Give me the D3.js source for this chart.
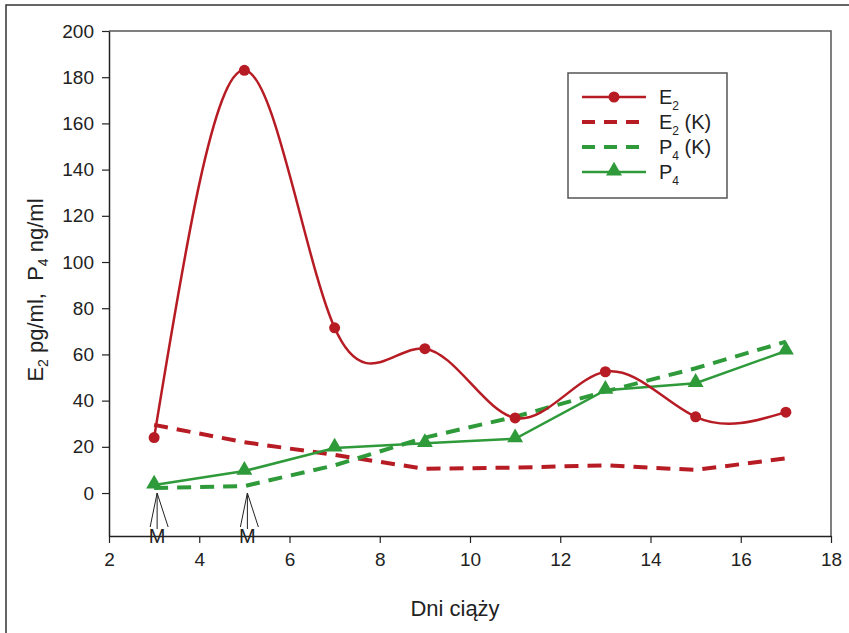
<!DOCTYPE html>
<html>
<head>
<meta charset="utf-8">
<script src="https://cdn.jsdelivr.net/npm/d3@7"></script>
<style>
  body { margin: 0; background: #fff; }
  text { font-family: "Liberation Sans", Arial, sans-serif; fill: #222; }
</style>
</head>
<body>
<svg id="chart" width="849" height="633"></svg>
<script>
// data
var days = [3, 5, 7, 9, 11, 13, 15, 17];
var e2 = [24, 183, 71.5, 62.5, 32.5, 52.5, 33, 35];
var e2K = [29.5, 22, 16.5, 10.5, 11, 12, 10, 15];
var p4K = [2.2, 3, 12, 24, 33, 44, 54, 65.5];
var p4 = [3.5, 9.5, 19.5, 21.5, 23.5, 44.5, 47.5, 61.5];
var xTicks = [2, 4, 6, 8, 10, 12, 14, 16, 18];
var yTicks = [0, 20, 40, 60, 80, 100, 120, 140, 160, 180, 200];
var markDays = [3, 5];

var red = '#b71c24';
var green = '#2f9a3a';

var svg = d3.select('#chart');

// outer frame
svg.append('rect')
  .attr('x', 6).attr('y', 5).attr('width', 900).attr('height', 700)
  .attr('fill', 'none').attr('stroke', '#333').attr('stroke-width', 1.5);

var pLeft = 109, pRight = 831, pTop = 31, pBottom = 536;

var x = d3.scaleLinear().domain([2, 18]).range([pLeft, pRight]);
var y = d3.scaleLinear().domain([-18.6, 200]).range([pBottom, pTop]);

// plot box (top and right sides)
svg.append('path')
  .attr('d', 'M' + pLeft + ',' + pTop + 'H' + pRight + 'V' + pBottom)
  .attr('fill', 'none').attr('stroke', '#555').attr('stroke-width', 1.5);

var xAxis = svg.append('g')
  .attr('transform', 'translate(0,' + pBottom + ')')
  .call(d3.axisBottom(x).tickValues(xTicks).tickSize(7).tickSizeOuter(0).tickPadding(10));
var yAxis = svg.append('g')
  .attr('transform', 'translate(' + pLeft + ',0)')
  .call(d3.axisLeft(y).tickValues(yTicks).tickSize(7).tickSizeOuter(0).tickPadding(8));

[xAxis, yAxis].forEach(function(a) {
  a.select('.domain').attr('stroke', '#222').attr('stroke-width', 1.5);
  a.selectAll('.tick line').attr('stroke', '#222').attr('stroke-width', 1.2);
  a.selectAll('.tick text').attr('font-size', 19)
    .attr('font-family', '"Liberation Sans", Arial, sans-serif').attr('fill', '#222');
});

// axis titles
svg.append('text')
  .attr('x', 455).attr('y', 616)
  .attr('text-anchor', 'middle').attr('font-size', 22)
  .text('Dni ciąży');

var yt = svg.append('text')
  .attr('transform', 'translate(43,290) rotate(-90)')
  .attr('text-anchor', 'middle').attr('font-size', 22);
yt.append('tspan').text('E');
yt.append('tspan').attr('font-size', 14).attr('dy', 5).text('2');
yt.append('tspan').attr('dy', -5).text(' pg/ml,\u00a0\u00a0P');
yt.append('tspan').attr('font-size', 14).attr('dy', 5).text('4');
yt.append('tspan').attr('dy', -5).text(' ng/ml');

// "M" markers
markDays.forEach(function(d) {
  var cx = x(d) + 3, tip = y(0);
  svg.append('path')
    .attr('d', 'M' + (cx - 7) + ',527L' + cx + ',' + tip + 'L' + (cx + 11) + ',527' +
               'M' + cx + ',' + tip + 'L' + cx + ',529')
    .attr('fill', 'none').attr('stroke', '#222').attr('stroke-width', 1);
  svg.append('text')
    .attr('x', cx).attr('y', 543)
    .attr('text-anchor', 'middle').attr('font-size', 20)
    .text('M');
});

function pts(vals) {
  return days.map(function(d, i) { return [d, vals[i]]; });
}

var lineSmooth = d3.line()
  .x(function(d) { return x(d[0]); })
  .y(function(d) { return y(d[1]); })
  .curve(d3.curveNatural);
var lineStraight = d3.line()
  .x(function(d) { return x(d[0]); })
  .y(function(d) { return y(d[1]); });

var series = [
  { vals: e2K, color: red, dash: '14,9', width: 4, line: lineStraight, marker: null },
  { vals: p4K, color: green, dash: '14,9', width: 4, line: lineStraight, marker: null },
  { vals: p4, color: green, dash: null, width: 2.5, line: lineStraight, marker: 'tri' },
  { vals: e2, color: red, dash: null, width: 2.5, line: lineSmooth, marker: 'dot' }
];

var triangle = d3.symbol().type(d3.symbolTriangle).size(110);

function drawMarker(g, kind, color) {
  if (kind === 'dot') {
    g.append('circle').attr('r', 5.5).attr('fill', color);
  } else if (kind === 'tri') {
    g.append('path').attr('d', triangle()).attr('fill', color)
      .attr('transform', 'translate(0,-1)');
  }
}

series.forEach(function(s) {
  var data = pts(s.vals);
  svg.append('path')
    .datum(data)
    .attr('d', s.line)
    .attr('fill', 'none')
    .attr('stroke', s.color)
    .attr('stroke-width', s.width)
    .attr('stroke-dasharray', s.dash);
  if (s.marker) {
    data.forEach(function(p) {
      var g = svg.append('g').attr('transform', 'translate(' + x(p[0]) + ',' + y(p[1]) + ')');
      drawMarker(g, s.marker, s.color);
    });
  }
});

// legend
var legendItems = [
  { pre: 'E', sub: '2', post: '', color: red, dash: null, width: 2.5, marker: 'dot' },
  { pre: 'E', sub: '2', post: ' (K)', color: red, dash: '13,9', width: 4, marker: null },
  { pre: 'P', sub: '4', post: ' (K)', color: green, dash: '13,9', width: 4, marker: null },
  { pre: 'P', sub: '4', post: '', color: green, dash: null, width: 2.5, marker: 'tri' }
];

svg.append('rect')
  .attr('x', 568).attr('y', 73).attr('width', 159).attr('height', 125)
  .attr('fill', '#fff').attr('stroke', '#555').attr('stroke-width', 1.5);

legendItems.forEach(function(it, i) {
  var ly = 97 + i * 25;
  svg.append('line')
    .attr('x1', 582).attr('x2', 646).attr('y1', ly).attr('y2', ly)
    .attr('stroke', it.color).attr('stroke-width', it.width)
    .attr('stroke-dasharray', it.dash);
  if (it.marker) {
    var g = svg.append('g').attr('transform', 'translate(614,' + ly + ')');
    drawMarker(g, it.marker, it.color);
  }
  var t = svg.append('text').attr('x', 659).attr('y', ly + 7).attr('font-size', 20);
  t.append('tspan').text(it.pre);
  t.append('tspan').attr('font-size', 12).attr('dy', 6).text(it.sub);
  t.append('tspan').attr('dy', -6).text(it.post);
});
</script>
</body>
</html>
